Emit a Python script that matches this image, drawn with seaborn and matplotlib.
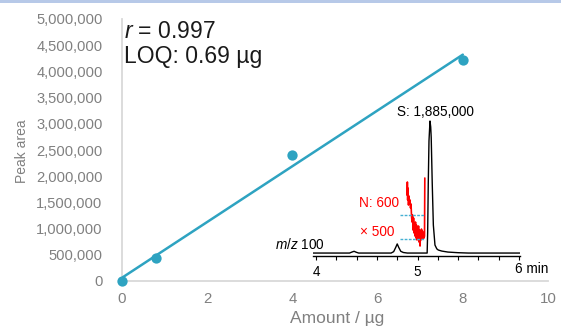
import numpy as np
import pandas as pd
import matplotlib
matplotlib.use("Agg")
import matplotlib.pyplot as plt
import matplotlib.transforms as mtransforms
from matplotlib.patches import Rectangle
import seaborn as sns

# ---------------- data ----------------
amount_ug = [0, 0.8, 4, 8]
peak_area = [0, 440000, 2400000, 4220000]
x_ticks = [0, 2, 4, 6, 8, 10]
y_ticks = [0, 500000, 1000000, 1500000, 2000000, 2500000, 3000000,
           3500000, 4000000, 4500000, 5000000]

# chromatogram (m/z 100), time in min, signal in counts
chrom_time = [3.97, 4.33, 4.355, 4.375, 4.395, 4.42, 4.74, 4.765, 4.785, 4.80,
              4.815, 4.835, 4.86, 4.90, 5.095, 5.100, 5.106, 5.113, 5.123,
              5.130, 5.135, 5.145, 5.156, 5.172, 5.19, 5.205, 5.24, 5.30,
              5.40, 5.50, 6.01]
chrom_signal = [0, 0, 15000, 25000, 12000, 0, 0, 20000, 80000, 130000,
                80000, 25000, 8000, 0, 0, 300000, 1000000, 1600000, 1885000,
                1800000, 1650000, 1000000, 400000, 114000, 60000, 43000,
                28000, 14000, 5000, 0, 0]

# noise trace (x500)
noise_time = [4.897, 4.900, 4.903, 4.906, 4.911, 4.916, 4.921, 4.926, 4.931,
              4.936, 4.941, 4.946, 4.951, 4.956, 4.961, 4.966, 4.970, 4.975,
              4.980, 4.985, 4.990, 4.995, 5.000, 5.005, 5.010, 5.015, 5.020,
              5.025, 5.030, 5.034, 5.039, 5.044, 5.049, 5.054, 5.059, 5.064,
              5.069, 5.072]
noise_signal = [828000, 1014000, 757000, 928000, 685000, 814000, 714000,
                757000, 643000, 700000, 528000, 443000, 543000, 328000,
                500000, 286000, 386000, 243000, 443000, 214000, 400000,
                186000, 357000, 243000, 386000, 157000, 328000, 100000,
                300000, 186000, 343000, 214000, 314000, 200000, 286000,
                214000, 243000, 1071000]
noise_band = [200000, 543000]
noise_band_time = [4.828, 5.074]
chrom_ticks_major = [4, 5]
chrom_ticks_minor = [4.2, 4.4, 4.6, 4.8, 5.2, 5.4, 5.6, 5.8, 6.0]

# ---------------- style ----------------
sns.set_theme(style="white")
plt.rcParams['font.family'] = ['Liberation Sans', 'DejaVu Sans']
plt.rcParams['mathtext.fontset'] = 'custom'
plt.rcParams['mathtext.it'] = 'Liberation Sans:italic'
plt.rcParams['mathtext.rm'] = 'Liberation Sans'

W, H = 561, 326
fig = plt.figure(figsize=(W / 100, H / 100), dpi=100)
fig.patch.set_facecolor('white')
fig.patches.append(Rectangle((0, 1 - 3 / H), 1, 3 / H, transform=fig.transFigure,
                             facecolor='#b7c9e8', edgecolor='none', zorder=0))

teal = '#2ea3c1'
gray = '#808080'

ax = fig.add_axes([122 / W, 1 - 281 / H, 426 / W, 262 / H])
df = pd.DataFrame({'amount': amount_ug, 'area': peak_area})
sns.regplot(data=df, x='amount', y='area', ax=ax, ci=None, color=teal,
            scatter_kws=dict(s=55, alpha=1, clip_on=False, zorder=4, linewidths=0),
            line_kws=dict(lw=1.8, zorder=3))
ax.set_xlim(0, 10)
ax.set_ylim(0, 5000000)
ax.set_xticks(x_ticks)
ax.set_xticklabels([str(t) for t in x_ticks])
ax.set_yticks(y_ticks)
ax.set_yticklabels([f"{v:,}" for v in y_ticks])
ax.set_xlabel('')
ax.set_ylabel('')
for s in ['top', 'right']:
    ax.spines[s].set_visible(False)
for s in ['left', 'bottom']:
    ax.spines[s].set_color('#d9d9d9')
    ax.spines[s].set_linewidth(1.3)
ax.tick_params(axis='y', length=0, pad=14, labelsize=10.6, labelcolor=gray)
ax.tick_params(axis='x', length=0, pad=8, labelsize=10.8, labelcolor=gray)
ax.patch.set_alpha(0)

ax.text(0.004, 0.954, r'$r$ = 0.997', transform=ax.transAxes, ha='left',
        va='center', fontsize=16.5, color='#1a1a1a')
ax.text(0.004, 0.855, 'LOQ: 0.69 µg', transform=ax.transAxes, ha='left',
        va='center', fontsize=16.5, color='#1a1a1a')

fig.text(22 / W, 1 - 151 / H, 'Peak area', rotation=90, ha='center',
         va='center', fontsize=10, color=gray)
fig.text(337 / W, 1 - 318 / H, 'Amount / µg', ha='center', va='center',
         fontsize=12.5, color=gray)

# ---------------- inset chromatogram ----------------
ax2 = fig.add_axes([313 / W, 1 - 255.5 / H, 207 / W, 155.5 / H])
ax2.patch.set_alpha(0)
sns.lineplot(x=chrom_time, y=chrom_signal, ax=ax2, color='black', lw=1.0,
             sort=False, estimator=None)
sns.lineplot(x=noise_time, y=noise_signal, ax=ax2, color='#ff0000', lw=1.2,
             sort=False, estimator=None)
ax2.hlines(noise_band, noise_band_time[0], noise_band_time[1],
           colors='#45b0d3', linestyles=(0, (2, 1)), lw=1.0)
ax2.set_xlim(3.97, 6.01)
ax2.set_ylim(-35000, 2185000)
for s in ['top', 'right', 'left']:
    ax2.spines[s].set_visible(False)
ax2.spines['bottom'].set_color('black')
ax2.spines['bottom'].set_linewidth(1.0)
ax2.set_yticks([])
ax2.set_xticks(chrom_ticks_major)
ax2.set_xticklabels([str(t) for t in chrom_ticks_major])
ax2.set_xticks(chrom_ticks_minor, minor=True)
ax2.tick_params(axis='x', which='both', direction='out', length=3, width=0.8,
                color='black', pad=4, labelsize=9.8, labelcolor='black',
                bottom=True)
off = mtransforms.ScaledTranslation(-3.5 / 100, 0, fig.dpi_scale_trans)
trans = mtransforms.blended_transform_factory(ax2.transData, ax2.transAxes)
ax2.text(6.0, -0.085, '6 min', transform=trans + off, ha='left', va='center',
         fontsize=9.8, color='black')

ax2.text(5.18, 2010000, 'S: 1,885,000', ha='center', va='center',
         fontsize=9.8, color='black')
ax2.text(4.818, 714000, 'N: 600', ha='right', va='center', fontsize=9.8,
         color='#ff0000')
ax2.text(4.43, 300000, '× 500', ha='left', va='center', fontsize=9.8,
         color='#ff0000')
ax2.text(4.09, 12000, r'$m/z$ 100', ha='right', va='bottom', fontsize=9.8,
         color='black')

fig.savefig('out.png', dpi=100, facecolor='white')
